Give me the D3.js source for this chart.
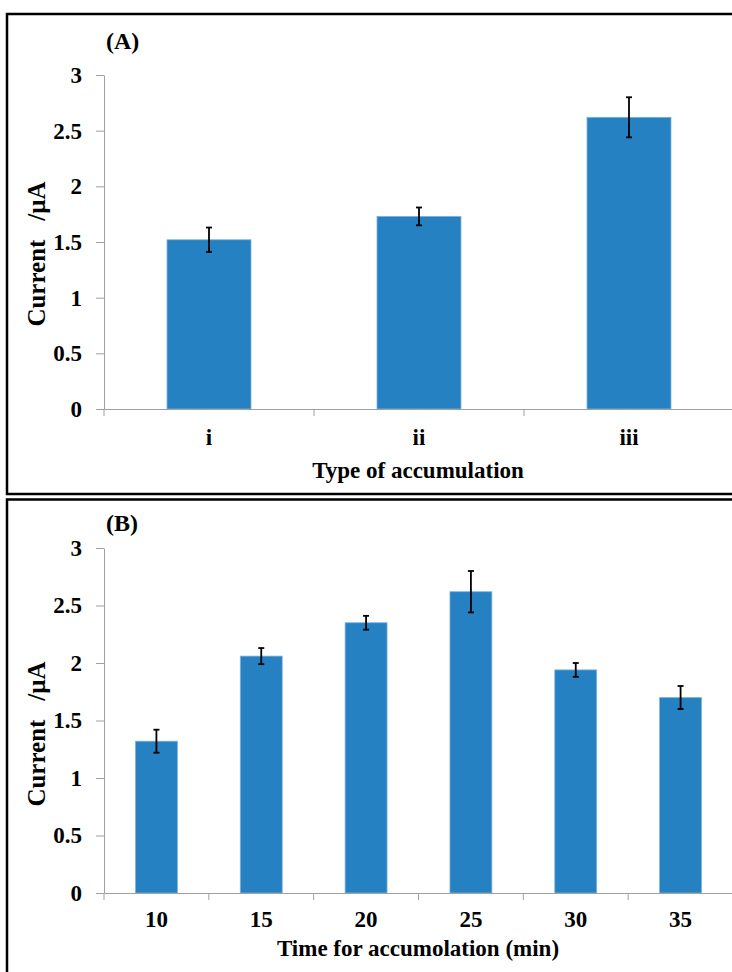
<!DOCTYPE html>
<html>
<head>
<meta charset="utf-8">
<script src="https://cdn.jsdelivr.net/npm/d3@7"></script>
<style>
  html, body { margin: 0; padding: 0; background: #fff; }
  svg text { font-family: "Liberation Serif", "Times New Roman", serif; font-weight: bold; fill: #000; }
</style>
</head>
<body>
<svg id="chart" width="732" height="972"></svg>
<script>
// ---- data ----
const categoriesA = ["i", "ii", "iii"];
const valuesA = [1.52, 1.73, 2.62];
const errorsA = [0.11, 0.08, 0.18];

const categoriesB = ["10", "15", "20", "25", "30", "35"];
const valuesB = [1.32, 2.06, 2.35, 2.62, 1.94, 1.70];
const errorsB = [0.10, 0.07, 0.06, 0.18, 0.06, 0.10];

const yTicks = [0, 0.5, 1, 1.5, 2, 2.5, 3];
const yLabel = "Current   /µA";
const xTitleA = "Type of accumulation";
const xTitleB = "Time for accumolation (min)";
const panelLabels = ["(A)", "(B)"];

const svg = d3.select("#chart");
const barColor = "#2581c1";
const axisColor = "#a0a0a0";
const fontFam = '"Liberation Serif", "Times New Roman", serif';

function drawPanel(cfg) {
  const g = svg.append("g");
  // panel frame
  g.append("rect")
    .attr("x", cfg.frame.x).attr("y", cfg.frame.y)
    .attr("width", cfg.frame.w).attr("height", cfg.frame.h)
    .attr("fill", "none").attr("stroke", "#000").attr("stroke-width", 2.5);

  const y = d3.scaleLinear().domain([0, 3]).range([cfg.y0, cfg.y3]);
  const x = d3.scaleBand().domain(cfg.cats).range([cfg.xl, cfg.xr])
    .paddingInner(0.6).paddingOuter(0.3);

  // y axis
  const ya = g.append("g").attr("transform", `translate(${cfg.xl},0)`)
    .call(d3.axisLeft(y).tickValues(yTicks).tickFormat(d => String(d))
      .tickSize(8).tickSizeOuter(0).tickPadding(14));
  ya.select(".domain").attr("stroke", axisColor);
  ya.selectAll(".tick line").attr("stroke", axisColor);
  ya.selectAll(".tick text").style("font-size", "23px")
    .style("font-family", fontFam)
    .style("font-weight", "bold").attr("fill", "#000");

  // bars
  g.selectAll("rect.bar").data(cfg.vals).enter().append("rect")
    .attr("class", "bar")
    .attr("x", (d, i) => x(cfg.cats[i]))
    .attr("width", x.bandwidth())
    .attr("y", d => y(d))
    .attr("height", d => y(0) - y(d))
    .attr("fill", barColor)
    .attr("stroke", "#7fb3dc").attr("stroke-width", 0.8);

  // x axis (line + labels)
  const xa = g.append("g").attr("transform", `translate(0,${cfg.y0})`)
    .call(d3.axisBottom(x).tickSize(0).tickSizeOuter(0).tickPadding(cfg.xTickPad));
  xa.select(".domain").attr("stroke", axisColor);
  xa.selectAll(".tick text").style("font-size", "23px")
    .style("font-family", fontFam)
    .style("font-weight", "bold").attr("fill", "#000");
  // boundary ticks between categories
  const step = x.step();
  const start = x(cfg.cats[0]) - step * x.paddingOuter();
  const bounds = d3.range(cfg.cats.length + 1).map(i => start + i * step);
  g.selectAll("line.bt").data(bounds).enter().append("line")
    .attr("x1", d => d).attr("x2", d => d)
    .attr("y1", cfg.y0).attr("y2", cfg.y0 + 7)
    .attr("stroke", axisColor).attr("stroke-width", 1);

  // error bars
  const eb = g.selectAll("g.err").data(cfg.vals).enter().append("g");
  eb.append("line")
    .attr("x1", (d, i) => x(cfg.cats[i]) + x.bandwidth() / 2)
    .attr("x2", (d, i) => x(cfg.cats[i]) + x.bandwidth() / 2)
    .attr("y1", (d, i) => y(d + cfg.errs[i]))
    .attr("y2", (d, i) => y(d - cfg.errs[i]))
    .attr("stroke", "#000").attr("stroke-width", 1.8);
  [1, -1].forEach(s => {
    eb.append("line")
      .attr("x1", (d, i) => x(cfg.cats[i]) + x.bandwidth() / 2 - 3)
      .attr("x2", (d, i) => x(cfg.cats[i]) + x.bandwidth() / 2 + 3)
      .attr("y1", (d, i) => y(d + s * cfg.errs[i]))
      .attr("y2", (d, i) => y(d + s * cfg.errs[i]))
      .attr("stroke", "#000").attr("stroke-width", 1.8);
  });

  // x title
  g.append("text").attr("x", cfg.titleX).attr("y", cfg.titleY)
    .attr("text-anchor", "middle").style("font-size", "23px").text(cfg.title);

  // y label
  g.append("text")
    .attr("transform", `translate(45,${cfg.yLabelY}) rotate(-90)`)
    .attr("text-anchor", "middle").style("font-size", "25px")
    .style("white-space", "pre").text(yLabel);

  // panel label
  g.append("text").attr("x", 106).attr("y", cfg.panelY)
    .style("font-size", "24px").text(cfg.panel);
}

drawPanel({
  frame: { x: 7, y: 14, w: 740, h: 480 },
  cats: categoriesA, vals: valuesA, errs: errorsA,
  y0: 409, y3: 75, xl: 104, xr: 734,
  xTickPad: 20, title: xTitleA, titleX: 418, titleY: 478,
  yLabelY: 254, panel: panelLabels[0], panelY: 49
});

drawPanel({
  frame: { x: 7, y: 499.5, w: 740, h: 480 },
  cats: categoriesB, vals: valuesB, errs: errorsB,
  y0: 893, y3: 548, xl: 104, xr: 733,
  xTickPad: 18, title: xTitleB, titleX: 418, titleY: 956,
  yLabelY: 734, panel: panelLabels[1], panelY: 531
});
</script>
</body>
</html>
